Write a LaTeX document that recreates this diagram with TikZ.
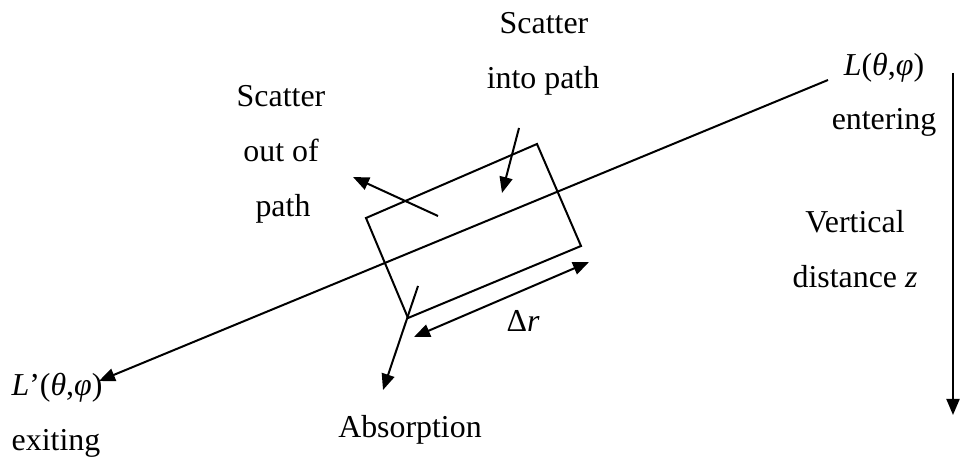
\documentclass[tikz,border=0pt]{standalone}
\usepackage{fontspec}
\setmainfont{Liberation Serif}
\usetikzlibrary{arrows.meta}
\begin{document}
\begin{tikzpicture}[x=1bp,y=-1bp,
  ln/.style={line width=2bp},
  arr/.style={ln,-{Triangle[length=16bp,width=13bp]}},
  darr/.style={ln,{Triangle[length=16bp,width=13bp]}-{Triangle[length=16bp,width=13bp]}},
  lbl/.style={inner sep=0pt,anchor=base,font=\fontsize{32}{38}\selectfont}]
\useasboundingbox (0,0) rectangle (961,461);
% main path
\coordinate (pin) at (828,80);
\coordinate (pout) at (99,381);
\draw[arr] (pin) -- (pout);
% volume element
\coordinate (r1) at (366,218);
\coordinate (r2) at (537,144);
\coordinate (r3) at (581,246);
\coordinate (r4) at (408,318);
\draw[ln] (r1) -- (r2) -- (r3) -- (r4) -- cycle;
% scatter out
\coordinate (so1) at (438,216);
\coordinate (so2) at (353,177);
\draw[arr] (so1) -- (so2);
% scatter in
\coordinate (si1) at (519,128);
\coordinate (si2) at (502,193);
\draw[arr] (si1) -- (si2);
% absorption
\coordinate (ab1) at (418,286);
\coordinate (ab2) at (383,390);
\draw[arr] (ab1) -- (ab2);
% delta r
\coordinate (dr1) at (414,337);
\coordinate (dr2) at (589,262);
\draw[darr] (dr1) -- (dr2);
% vertical
\coordinate (v1) at (953,73);
\coordinate (v2) at (953,415);
\draw[arr] (v1) -- (v2);
% labels
\node[lbl] (t1) at (544,34) {Scatter};
\node[lbl] (t2) at (543,89) {into path};
\node[lbl] (t3) at (281,107) {Scatter};
\node[lbl] (t4) at (281,162) {out of};
\node[lbl] (t5) at (283,217) {path};
\node[lbl] (t6) at (884,76) {\textit{L}(\textit{θ},\textit{φ})};
\node[lbl] (t7) at (884,130) {entering};
\node[lbl] (t8) at (855,233) {Vertical};
\node[lbl] (t9) at (855,288) {distance \textit{z}};
\node[lbl] (t10) at (523,332) {Δ\textit{r}};
\node[lbl] (t11) at (410,437) {Absorption};
\node[lbl] (t12) at (57,395) {\textit{L}’(\textit{θ},\textit{φ})};
\node[lbl] (t13) at (56,450) {exiting};
\end{tikzpicture}
\end{document}
